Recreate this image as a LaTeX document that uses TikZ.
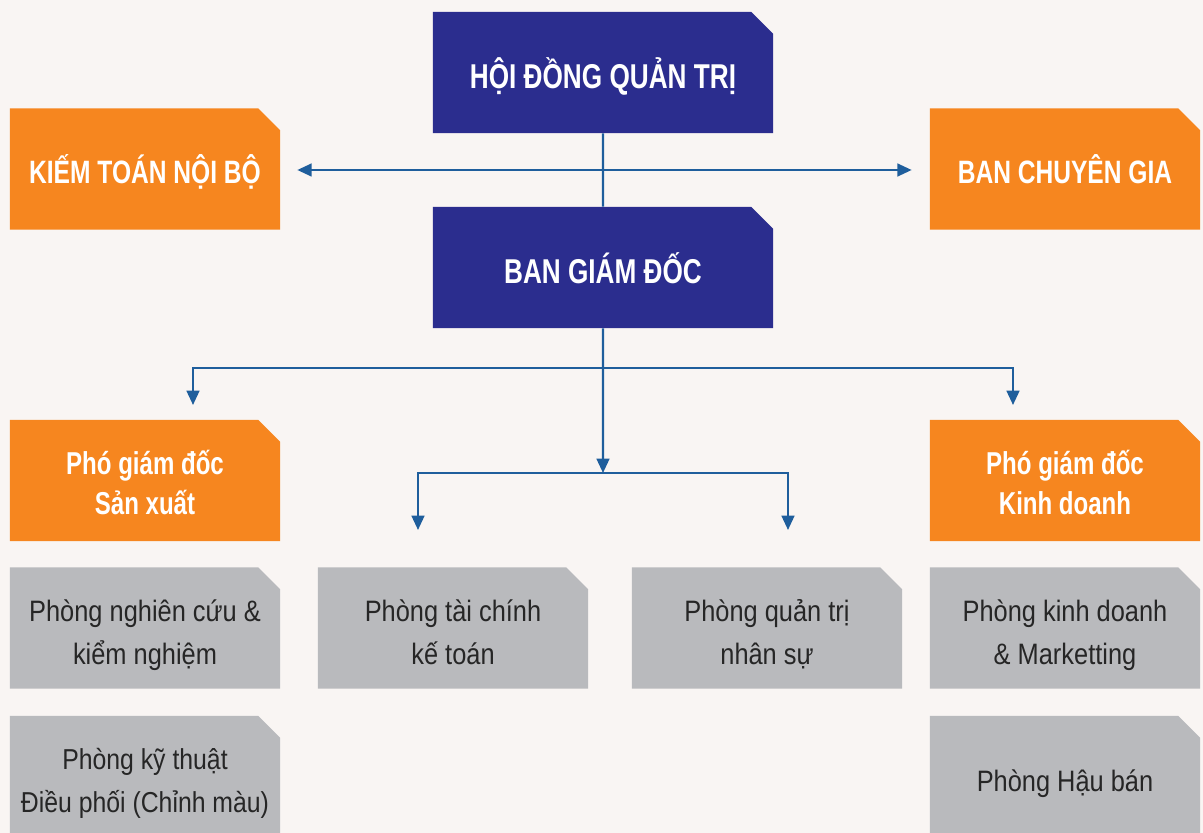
\documentclass[tikz,border=0pt]{standalone}
\usepackage{fontspec}
\setmainfont{Liberation Sans}[FakeStretch=0.86,BoldFeatures={FakeStretch=0.76}]
\usetikzlibrary{arrows.meta,shapes.misc}
\definecolor{navy}{HTML}{2B2D8E}
\definecolor{cam}{HTML}{F6861F}
\definecolor{xam}{HTML}{B9BABD}
\definecolor{xanh}{HTML}{1F5E9C}
\definecolor{nen}{HTML}{F9F5F3}
% text block, set a little below the centre of its box
\newcommand{\chu}[1]{\raisebox{-0.15cm}[\height][\depth]{\begin{tabular}{@{}c@{}}#1\end{tabular}}}
\tikzset{
    % Define style for boxes
    hop/.style={
           chamfered rectangle,
           chamfered rectangle corners=north east,
           chamfered rectangle xsep=0.27cm,
           chamfered rectangle ysep=0.27cm,
           inner sep=0pt,
           minimum width=6.75cm,
           minimum height=3.025cm},
    hoidong/.style={hop, fill=navy, text=white, font=\bfseries\fontsize{24.5}{28}\selectfont, minimum width=8.5cm},
    phu/.style={hop, fill=cam, text=white, font=\bfseries\fontsize{23}{28}\selectfont},
    pho/.style={hop, fill=cam, text=white, font=\bfseries\fontsize{22.5}{28.5}\selectfont},
    phong/.style={hop, fill=xam, text=black!85, font=\fontsize{21}{30.5}\selectfont},
    % Define arrow style
    pil/.style={
           -{Triangle[length=0.36cm,width=0.32cm]},
           draw=xanh,
           line width=1.6pt},
    noi/.style={draw=xanh, line width=1.6pt}
}

\begin{document}
\begin{tikzpicture}[x=0.025cm,y=-0.025cm]
  \fill[nen] (0,0) rectangle (1203,833);
  \useasboundingbox (0,0) rectangle (1203,833);

  \node[hoidong] (hdqt) at (603,72.5) {\chu{HỘI ĐỒNG QUẢN TRỊ}};
  \node[hoidong] (bgd) at (603,267.5) {\chu{BAN GIÁM ĐỐC}};
  \node[phu] (ktnb) at (145,169) {\chu{KIẾM TOÁN NỘI BỘ}};
  \node[phu] (bcg) at (1065,169) {\chu{BAN CHUYÊN GIA}};
  \node[pho] (pgdsx) at (145,480.5) {\chu{Phó giám đốc\\Sản xuất}};
  \node[pho] (pgdkd) at (1065,480.5) {\chu{Phó giám đốc\\Kinh doanh}};
  \node[phong] (pnc) at (145,628) {\chu{Phòng nghiên cứu \&\\kiểm nghiệm}};
  \node[phong] (ptc) at (453,628) {\chu{Phòng tài chính\\kế toán}};
  \node[phong] (pqt) at (767,628) {\chu{Phòng quản trị\\nhân sự}};
  \node[phong] (pkd) at (1065,628) {\chu{Phòng kinh doanh\\\& Marketting}};
  \node[phong,font=\fontsize{20.5}{30.5}\selectfont] (pkt) at (145,776.5) {\chu{Phòng kỹ thuật\\Điều phối (Chỉnh màu)}};
  \node[phong] (phb) at (1065,776.5) {\chu{Phòng Hậu bán}};

  \coordinate (j1) at (603,368);
  \coordinate (j2) at (603,473);
  \coordinate (sxin) at (193,405);
  \coordinate (kdin) at (1013,405);
  \coordinate (tcin) at (418,530);
  \coordinate (qtin) at (788,530);

  \draw[noi] (hdqt) -- (bgd);
  \draw[pil,{Triangle[length=0.36cm,width=0.32cm]}-{Triangle[length=0.36cm,width=0.32cm]},
        shorten <=0.425cm, shorten >=0.45cm] (ktnb.east|-0,170) -- (bcg.west|-0,170);
  \draw[pil] (j1) -| (sxin);
  \draw[pil] (j1) -| (kdin);
  \draw[pil] (bgd) -- (j2);
  \draw[pil] (j2) -| (tcin);
  \draw[pil] (j2) -| (qtin);
\end{tikzpicture}
\end{document}
